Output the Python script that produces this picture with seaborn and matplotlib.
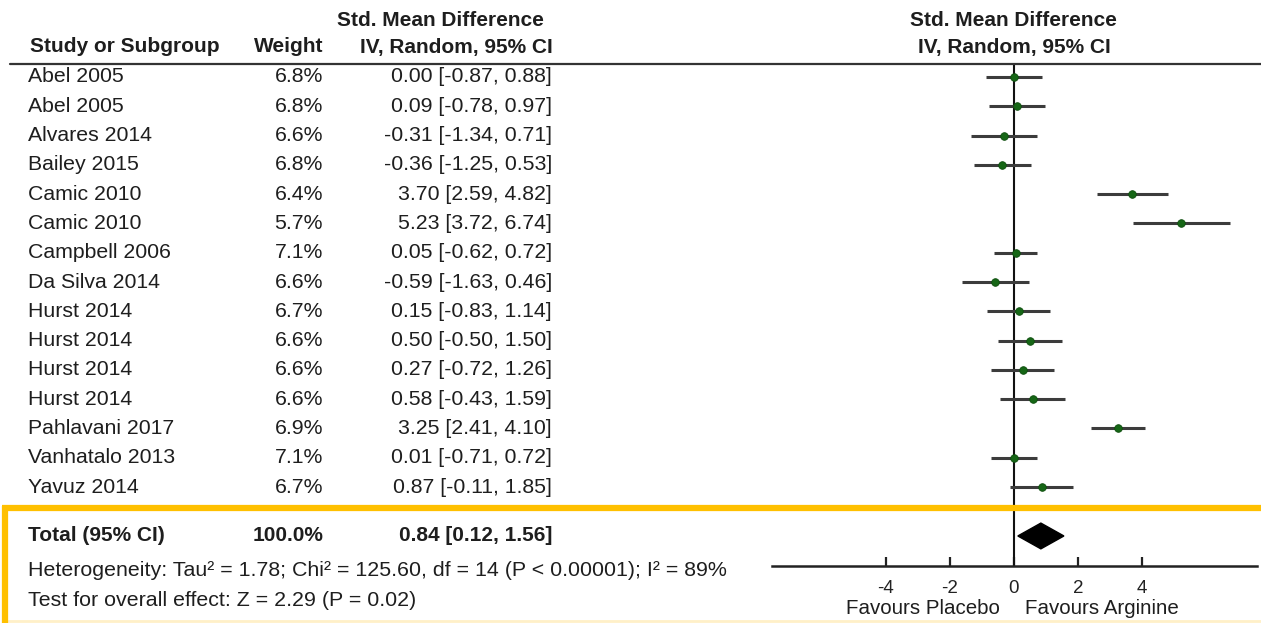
import matplotlib
matplotlib.use("Agg")
import matplotlib.pyplot as plt
import matplotlib.transforms as mtransforms
from matplotlib.lines import Line2D
from matplotlib.patches import Polygon
import seaborn as sns
import pandas as pd

sns.set_theme(style="white")
plt.rcParams['font.family'] = ['Liberation Sans', 'DejaVu Sans']

# ---- data ----
studies = ["Abel 2005", "Abel 2005", "Alvares 2014", "Bailey 2015", "Camic 2010",
           "Camic 2010", "Campbell 2006", "Da Silva 2014", "Hurst 2014", "Hurst 2014",
           "Hurst 2014", "Hurst 2014", "Pahlavani 2017", "Vanhatalo 2013", "Yavuz 2014"]
weights = [6.8, 6.8, 6.6, 6.8, 6.4, 5.7, 7.1, 6.6, 6.7, 6.6, 6.6, 6.6, 6.9, 7.1, 6.7]
smd = [0.00, 0.09, -0.31, -0.36, 3.70, 5.23, 0.05, -0.59, 0.15, 0.50, 0.27, 0.58, 3.25, 0.01, 0.87]
ci_low = [-0.87, -0.78, -1.34, -1.25, 2.59, 3.72, -0.62, -1.63, -0.83, -0.50, -0.72, -0.43, 2.41, -0.71, -0.11]
ci_high = [0.88, 0.97, 0.71, 0.53, 4.82, 6.74, 0.72, 0.46, 1.14, 1.50, 1.26, 1.59, 4.10, 0.72, 1.85]
total_weight = 100.0
total_smd, total_low, total_high = 0.84, 0.12, 1.56
tick_values = [-4, -2, 0, 2, 4]
tick_labels = ["-4", "-2", "0", "2", "4"]
heterogeneity = "Heterogeneity: Tau\u00b2 = 1.78; Chi\u00b2 = 125.60, df = 14 (P < 0.00001); I\u00b2 = 89%"
overall = "Test for overall effect: Z = 2.29 (P = 0.02)"

df = pd.DataFrame({"study": studies, "weight": weights, "smd": smd,
                   "lo": ci_low, "hi": ci_high})
df["row"] = range(len(df))
total_row = 15.67

W, H = 1261, 623
fig = plt.figure(figsize=(W / 100, H / 100), dpi=100)
fig.patch.set_facecolor("white")

def fx(px):
    return px / W

def fy(py):
    return 1 - py / H

# forest axes
ax_left, ax_right, ax_top, ax_bottom = 772, 1257, 64, 566
ax = fig.add_axes([fx(ax_left), fy(ax_bottom), fx(ax_right - ax_left), (ax_bottom - ax_top) / H])
ax.set_facecolor("none")
ax.set_xlim(-7.5625, 7.594)
row0_px, row_step = 77, 29.29
ax.set_ylim((ax_bottom - row0_px) / row_step, (ax_top - row0_px) / row_step)

for s in ["top", "left", "right"]:
    ax.spines[s].set_visible(False)
ax.spines["bottom"].set_color("#222222")
ax.spines["bottom"].set_linewidth(1.8)
ax.set_yticks([])
ax.set_xticks(tick_values)
ax.set_xticklabels(tick_labels)
ax.tick_params(axis="x", which="major", bottom=True, direction="in", length=6.5, width=1.6,
               color="#222222", labelsize=13.5, labelcolor="#222222", pad=10)

# null line
ax.axvline(0, color="#111111", lw=1.5, zorder=1)

# CIs
ax.hlines(df["row"], df["lo"], df["hi"], color="#3c3c3c", lw=2.2, zorder=2)
sns.scatterplot(data=df, x="smd", y="row", marker="o", s=30, color="#166616",
                edgecolor="#0d4d0d", linewidth=0.6, ax=ax, zorder=3, legend=False)
ax.set_xlabel("")
ax.set_ylabel("")

# diamond
hh = 0.44
diamond = Polygon([(total_low, total_row), (total_smd, total_row - hh),
                   (total_high, total_row), (total_smd, total_row + hh)],
                  closed=True, facecolor="black", edgecolor="black", zorder=4)
ax.add_patch(diamond)

# ---- texts ----
tc = "#1e1e1e"
trans = mtransforms.blended_transform_factory(fig.transFigure, ax.transData)
fs = 15.3

fig.text(fx(30), fy(47), "Study or Subgroup", fontsize=15, fontweight="bold",
         ha="left", va="center", color=tc)
fig.text(fx(323), fy(47), "Weight", fontsize=15, fontweight="bold",
         ha="right", va="center", color=tc)
fig.text(fx(440), fy(20), "Std. Mean Difference", fontsize=15, fontweight="bold",
         ha="center", va="center", color=tc)
fig.text(fx(553), fy(47), "IV, Random, 95% CI", fontsize=15, fontweight="bold",
         ha="right", va="center", color=tc)
fig.text(fx(1013), fy(20), "Std. Mean Difference", fontsize=15, fontweight="bold",
         ha="center", va="center", color=tc)
fig.text(fx(1014), fy(47), "IV, Random, 95% CI", fontsize=15, fontweight="bold",
         ha="center", va="center", color=tc)

for r, (name, w, m, lo, hi) in enumerate(zip(studies, weights, smd, ci_low, ci_high)):
    ax.text(fx(28), r, name, transform=trans, fontsize=fs, ha="left", va="center",
            color=tc, clip_on=False)
    ax.text(fx(323), r, f"{w:.1f}%", transform=trans, fontsize=fs, ha="right",
            va="center", color=tc, clip_on=False)
    ax.text(fx(552), r, f"{m:.2f} [{lo:.2f}, {hi:.2f}]", transform=trans, fontsize=fs,
            ha="right", va="center", color=tc, clip_on=False)

ax.text(fx(28), total_row, "Total (95% CI)", transform=trans, fontsize=15,
        fontweight="bold", ha="left", va="center", color=tc, clip_on=False)
ax.text(fx(323), total_row, f"{total_weight:.1f}%", transform=trans, fontsize=15,
        fontweight="bold", ha="right", va="center", color=tc, clip_on=False)
ax.text(fx(552), total_row, f"{total_smd:.2f} [{total_low:.2f}, {total_high:.2f}]",
        transform=trans, fontsize=15, fontweight="bold", ha="right", va="center",
        color=tc, clip_on=False)

fig.text(fx(28), fy(571), heterogeneity, fontsize=15.4, ha="left", va="center", color=tc)
fig.text(fx(28), fy(601), overall, fontsize=15.4, ha="left", va="center", color=tc)
fig.text(fx(1000), fy(609), "Favours Placebo", fontsize=14.8, ha="right", va="center", color=tc)
fig.text(fx(1025), fy(609), "Favours Arginine", fontsize=14.8, ha="left", va="center", color=tc)

# header rule
fig.add_artist(Line2D([fx(10), fx(1261)], [fy(64), fy(64)], color="#333333", lw=1.6))

# orange box
orange = "#FFC000"
fig.add_artist(Line2D([fx(2), fx(1261)], [fy(508), fy(508)], color=orange, lw=4.5,
                      solid_capstyle="butt", zorder=10))
fig.add_artist(Line2D([fx(5), fx(5)], [fy(506), fy(623)], color=orange, lw=4.5,
                      solid_capstyle="butt", zorder=10))
fig.add_artist(Line2D([fx(5), fx(1261)], [fy(621), fy(621)], color="#FFF0C8", lw=2,
                      zorder=9))

fig.savefig("out.png", dpi=100, facecolor="white")
